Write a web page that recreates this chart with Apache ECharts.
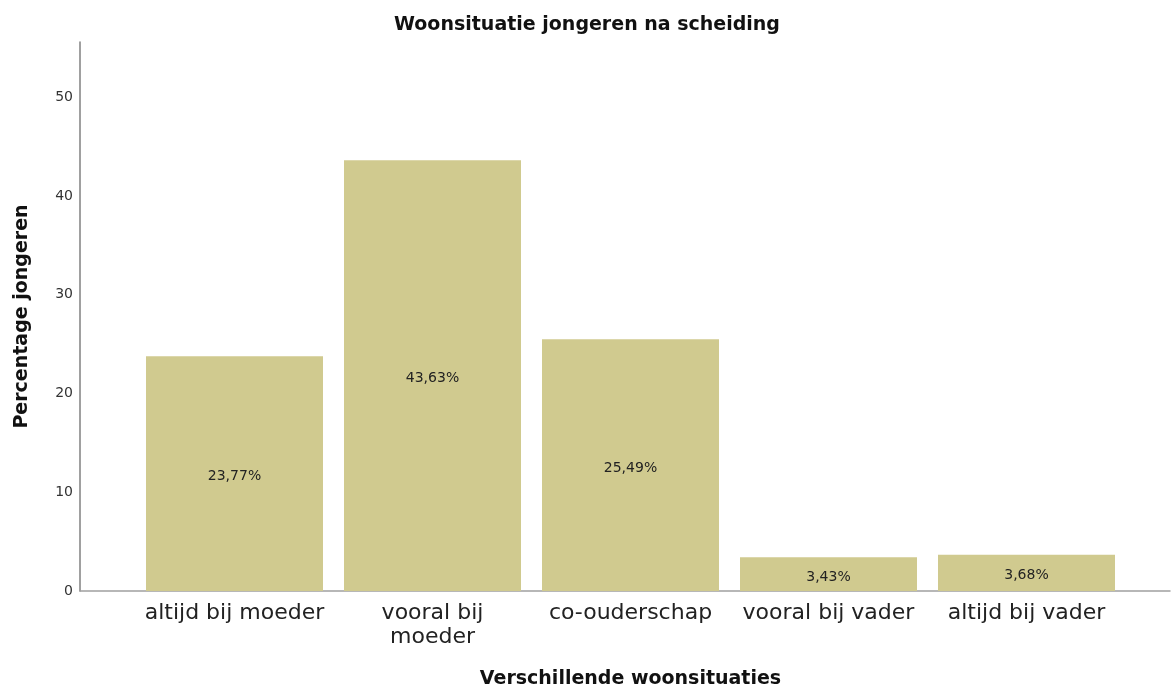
<!DOCTYPE html>
<html>
<head>
<meta charset="utf-8">
<script src="https://cdn.jsdelivr.net/npm/echarts@6/dist/echarts.min.js"></script>
<style>html,body{margin:0;padding:0;background:#fff;}#chart{width:1174px;height:691px;}</style>
</head>
<body>
<div id="chart"></div>
<script>
const categories = ['altijd bij moeder', 'vooral bij\nmoeder', 'co-ouderschap', 'vooral bij vader', 'altijd bij vader'];
const percentages = [23.77, 43.63, 25.49, 3.43, 3.68];
const yTicks = [0, 10, 20, 30, 40, 50];

const chart = echarts.init(document.getElementById('chart'));
const fontFamily = '"DejaVu Sans", sans-serif';
chart.setOption({
  animation: false,
  backgroundColor: '#ffffff',
  textStyle: { fontFamily: fontFamily },
  title: {
    text: 'Woonsituatie jongeren na scheiding',
    left: 'center',
    top: 11,
    textStyle: { fontFamily: fontFamily, fontSize: 19, fontWeight: 'bold', color: '#111' }
  },
  grid: [
    { left: 80, right: 4, top: 42, bottom: 100, outerBoundsMode: 'none', containLabel: false },
    { left: 135.5, right: 48.5, top: 42, bottom: 100, outerBoundsMode: 'none', containLabel: false }
  ],
  xAxis: [
    {
      gridIndex: 0, type: 'value', min: 0, max: 1,
      axisLine: { show: true, lineStyle: { color: '#a0a0a0', width: 1.5 } },
      axisTick: { show: false }, axisLabel: { show: false }, splitLine: { show: false }
    },
    {
      gridIndex: 1, type: 'category', data: categories,
      axisLine: { show: false }, axisTick: { show: false }, splitLine: { show: false },
      axisLabel: { fontFamily: fontFamily, fontSize: 22, color: '#222', margin: 10, lineHeight: 24, interval: 0 },
      name: 'Verschillende woonsituaties',
      nameLocation: 'middle',
      nameGap: 79,
      nameTextStyle: { fontFamily: fontFamily, fontSize: 19, fontWeight: 'bold', color: '#111' }
    }
  ],
  yAxis: [
    {
      gridIndex: 0, type: 'value', min: 0, max: 55.6, interval: 10,
      axisLine: { show: true, lineStyle: { color: '#808080', width: 1.5 } },
      axisTick: { show: false }, splitLine: { show: false },
      axisLabel: { fontFamily: fontFamily, fontSize: 14, color: '#333', margin: 7, showMaxLabel: false,
        formatter: function (v) { return yTicks.indexOf(v) >= 0 ? String(v) : ''; } },
      name: 'Percentage jongeren',
      nameLocation: 'middle',
      nameGap: 48,
      nameTextStyle: { fontFamily: fontFamily, fontSize: 19, fontWeight: 'bold', color: '#111' }
    },
    {
      gridIndex: 1, type: 'value', min: 0, max: 55.6, show: false
    }
  ],
  series: [{
    type: 'bar',
    xAxisIndex: 1, yAxisIndex: 1,
    data: percentages,
    barWidth: 177,
    itemStyle: { color: '#D0CA8F' },
    label: {
      show: true, position: 'inside', offset: [0, 3], fontFamily: fontFamily, fontSize: 14, color: '#222',
      formatter: function (p) { return p.value.toFixed(2).replace('.', ',') + '%'; }
    }
  }]
});
</script>
</body>
</html>
